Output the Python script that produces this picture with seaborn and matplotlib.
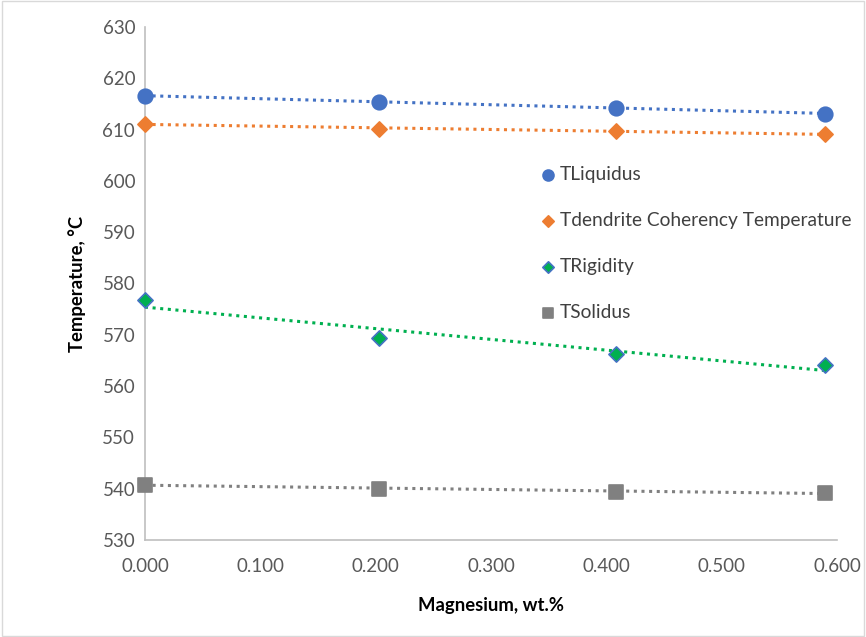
import numpy as np
import pandas as pd
import matplotlib
matplotlib.use("Agg")
import matplotlib.pyplot as plt
import seaborn as sns

# Data
magnesium = [0.0, 0.203, 0.408, 0.590]
tLiquidus = [616.6, 615.4, 614.3, 613.1]
tDendrite = [611.1, 610.2, 609.7, 609.1]
tRigidity = [576.8, 569.3, 566.2, 564.1]
tSolidus = [540.8, 540.0, 539.4, 539.2]

seriesNames = ["TLiquidus", "Tdendrite Coherency Temperature", "TRigidity", "TSolidus"]
xTicks = [0.0, 0.1, 0.2, 0.3, 0.4, 0.5, 0.6]
yTicks = [530, 540, 550, 560, 570, 580, 590, 600, 610, 620, 630]

df = pd.DataFrame({
    "Mg": magnesium * 4,
    "T": tLiquidus + tDendrite + tRigidity + tSolidus,
    "series": np.repeat(seriesNames, len(magnesium)),
})

# marker, face colour, edge colour, trendline colour, marker size
styles = {
    "TLiquidus": ("o", "#4472C4", "#4472C4", "#4472C4", 110),
    "Tdendrite Coherency Temperature": ("D", "#ED7D31", "#ED7D31", "#ED7D31", 60),
    "TRigidity": ("D", "#00B050", "#4472C4", "#00B050", 60),
    "TSolidus": ("s", "#808080", "#808080", "#808080", 90),
}

sns.set_theme(style="white")
plt.rcParams["font.family"] = ["Lato", "DejaVu Sans"]

fig = plt.figure(figsize=(8.66, 6.37), dpi=100)
ax = fig.add_axes([0.1674, 0.1523, 0.7991, 0.8053])

for name in seriesNames:
    sub = df[df["series"] == name]
    marker, face, edge, lineColor, size = styles[name]
    # linear trendline like Excel
    slope, intercept = np.polyfit(sub["Mg"], sub["T"], 1)
    xs = np.array([sub["Mg"].min(), sub["Mg"].max()])
    ax.plot(xs, slope * xs + intercept, linestyle=(0, (1, 1.5)), linewidth=2.2,
            color=lineColor, zorder=2)
    sns.scatterplot(data=sub, x="Mg", y="T", marker=marker, s=size, color=face,
                    edgecolor=edge, linewidth=1.2, ax=ax, label=name, zorder=3,
                    clip_on=False)

ax.set_xlim(0, 0.6)
ax.set_ylim(530, 630)
ax.set_xticks(xTicks)
ax.set_xticklabels([f"{v:.3f}" for v in xTicks])
ax.set_yticks(yTicks)
ax.tick_params(axis="both", length=0, labelsize=13.5, colors="#595959", pad=13)
ax.tick_params(axis="y", pad=7)

for side in ["top", "right"]:
    ax.spines[side].set_visible(False)
for side in ["left", "bottom"]:
    ax.spines[side].set_color("#BFBFBF")
    ax.spines[side].set_linewidth(1.2)

ax.set_xlabel("Magnesium, wt.%", fontsize=13.3, fontweight="bold", color="black", labelpad=16)
ax.set_ylabel("Temperature, °C", fontsize=13.3, fontweight="bold", color="black", labelpad=12)

leg = ax.legend(loc="upper left", bbox_to_anchor=(537 / 866, 1 - 166 / 637),
                bbox_transform=fig.transFigure, frameon=False, fontsize=13.8,
                labelspacing=1.52, handletextpad=0.1, handlelength=1.1,
                borderpad=0, borderaxespad=0, markerscale=0.75)
for txt in leg.get_texts():
    txt.set_color("#404040")

# thin chart-area border
fig.patches.append(plt.Rectangle((0.002, 0.002), 0.996, 0.996, transform=fig.transFigure,
                                 fill=False, edgecolor="#D9D9D9", linewidth=1))

fig.savefig("out.png", dpi=100)
